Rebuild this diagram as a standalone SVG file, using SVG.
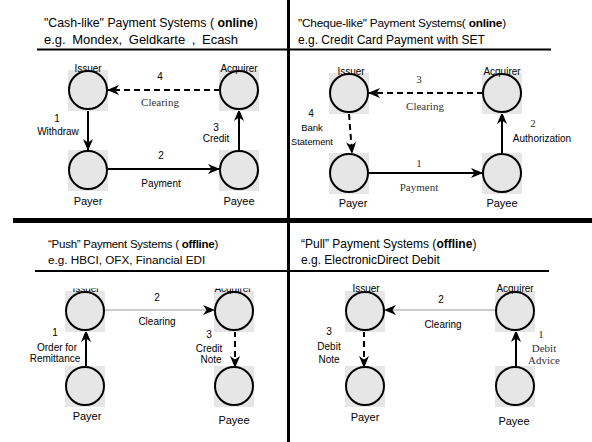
<svg xmlns="http://www.w3.org/2000/svg" width="592" height="442" viewBox="0 0 592 442">
<style>
.t{font-family:"Liberation Sans",Arial,sans-serif;font-size:12px;fill:#000}
.s{font-family:"Liberation Sans",Arial,sans-serif;font-size:10px;fill:#000;text-anchor:middle}
.n{font-family:"Liberation Sans",Arial,sans-serif;font-size:11px;fill:#000;text-anchor:middle}
.r{font-family:"Liberation Serif","Times New Roman",serif;font-size:11px;fill:#333;text-anchor:middle}
.bg{fill:#e6e6e6}
.c{fill:none;stroke:#000;stroke-width:2}
.sol{fill:none;stroke:#000;stroke-width:2}
.dsh{fill:none;stroke:#000;stroke-width:2;stroke-dasharray:6,4}
.thin{fill:none;stroke:#999;stroke-width:1}
.div{stroke:#000;fill:none}
</style>
<defs>
<marker id="ah" markerUnits="userSpaceOnUse" markerWidth="12" markerHeight="10" viewBox="0 0 12 10" refX="11" refY="5" orient="auto">
<path d="M0,0 L12,5 L0,10 L3.5,5 z" fill="#000"/>
</marker>
<clipPath id="blclip"><rect x="0" y="288.5" width="290" height="20"/></clipPath>
</defs>
<rect width="592" height="442" fill="#fff"/>

<g id="frame">
<line class="div" x1="288.5" y1="0" x2="288.5" y2="442" stroke-width="3"/>
<line class="div" x1="13" y1="220.5" x2="592" y2="220.5" stroke-width="5"/>
<line class="div" x1="37" y1="49.5" x2="287" y2="49.5" stroke-width="2"/>
<line class="div" x1="290" y1="49.5" x2="551" y2="49.5" stroke-width="2"/>
<line class="div" x1="35" y1="271" x2="287" y2="271" stroke-width="2"/>
<line class="div" x1="290" y1="271" x2="549" y2="271" stroke-width="2"/>
</g>

<g id="titles">
<text class="t" x="44" y="27" style="font-size:12.3px">"Cash-like" Payment Systems ( <tspan font-weight="bold">online</tspan>)</text>
<text class="t" x="44" y="44" style="font-size:13px;word-spacing:3px">e.g. Mondex, Geldkarte , Ecash</text>
<text class="t" x="298" y="27" style="font-size:11.8px;letter-spacing:-0.2px">"Cheque-like" Payment Systems( <tspan font-weight="bold">online</tspan>)</text>
<text class="t" x="298" y="44">e.g. Credit Card Payment  with SET</text>
<text class="t" x="48" y="248" style="font-size:11.5px;letter-spacing:-0.25px">“Push” Payment Systems ( <tspan font-weight="bold">offline</tspan>)</text>
<text class="t" x="48" y="264" style="font-size:11.7px">e.g. HBCI, OFX, Financial EDI</text>
<text class="t" x="301" y="248">“Pull” Payment Systems (<tspan font-weight="bold">offline</tspan>)</text>
<text class="t" x="301" y="264">e.g. ElectronicDirect Debit</text>
</g>

<g id="connectors">
<!-- top-left -->
<line class="dsh" x1="220" y1="90" x2="108" y2="90" marker-end="url(#ah)"/>
<line class="sol" x1="88" y1="110" x2="88" y2="150" marker-end="url(#ah)"/>
<line class="sol" x1="107" y1="169" x2="219" y2="169" marker-end="url(#ah)"/>
<line class="sol" x1="239" y1="150" x2="239" y2="110" marker-end="url(#ah)"/>
<!-- top-right -->
<line class="dsh" x1="483" y1="93" x2="369" y2="93" marker-end="url(#ah)"/>
<line class="dsh" x1="349" y1="114" x2="352" y2="153" marker-end="url(#ah)"/>
<line class="sol" x1="368" y1="173" x2="482" y2="173" marker-end="url(#ah)"/>
<line class="sol" x1="502" y1="153" x2="502" y2="113" marker-end="url(#ah)"/>
<!-- bottom-left -->
<line class="thin" x1="104" y1="310" x2="214" y2="310"/>
<path d="M203,305 L215,310 L203,315 L206.5,310 z" fill="#000"/>
<line class="sol" x1="86" y1="367" x2="86" y2="331" marker-end="url(#ah)"/>
<line class="dsh" x1="235" y1="331" x2="235" y2="367" marker-end="url(#ah)"/>
<!-- bottom-right -->
<line class="thin" x1="496" y1="310" x2="385" y2="310"/>
<path d="M396,305 L384,310 L396,315 L392.5,310 z" fill="#000"/>
<line class="dsh" x1="364" y1="331" x2="364" y2="367" marker-end="url(#ah)"/>
<line class="sol" x1="516" y1="367" x2="516" y2="331" marker-end="url(#ah)"/>
</g>

<g id="connector-labels">
<text class="s" x="160" y="80">4</text>
<text class="r" x="160" y="106">Clearing</text>
<text class="s" x="57" y="122">1</text>
<text class="s" x="58" y="135">Withdraw</text>
<text class="s" x="161" y="159">2</text>
<text class="s" x="161" y="187">Payment</text>
<text class="s" x="216" y="131">3</text>
<text class="s" x="216" y="142">Credit</text>

<text class="r" x="419" y="83">3</text>
<text class="r" x="425" y="110">Clearing</text>
<text class="s" x="311" y="117">4</text>
<text class="s" x="312" y="131" style="font-size:9.5px">Bank</text>
<text class="s" x="312" y="145" style="font-size:9.2px">Statement</text>
<text class="r" x="419" y="167">1</text>
<text class="r" x="419" y="191">Payment</text>
<text class="r" x="533" y="127">2</text>
<text class="s" x="542" y="142">Authorization</text>

<text class="s" x="157" y="301">2</text>
<text class="s" x="157" y="325">Clearing</text>
<text class="s" x="55" y="336">1</text>
<text class="s" x="57" y="351">Order for</text>
<text class="s" x="55" y="362">Remittance</text>
<text class="s" x="209" y="338">3</text>
<text class="s" x="209" y="352">Credit</text>
<text class="s" x="211" y="363">Note</text>

<text class="s" x="441" y="303">2</text>
<text class="s" x="443" y="328">Clearing</text>
<text class="s" x="329" y="335">3</text>
<text class="s" x="329" y="350">Debit</text>
<text class="s" x="329" y="363">Note</text>
<text class="r" x="541" y="338">1</text>
<text class="r" x="544" y="352">Debit</text>
<text class="r" x="544" y="364">Advice</text>
</g>

<g id="tl-issuer"><rect class="bg" x="68" y="70" width="40" height="41"/><circle class="c" cx="88" cy="90" r="19"/><text class="s" x="88" y="72">Issuer</text></g>
<g id="tl-acquirer"><rect class="bg" x="219" y="70" width="40" height="41"/><circle class="c" cx="239" cy="90" r="19"/><text class="s" x="239" y="72">Acquirer</text></g>
<g id="tl-payer"><rect class="bg" x="68" y="150" width="40" height="41"/><circle class="c" cx="88" cy="170" r="19"/><text class="n" x="88" y="205">Payer</text></g>
<g id="tl-payee"><rect class="bg" x="219" y="150" width="40" height="41"/><circle class="c" cx="239" cy="170" r="19"/><text class="n" x="239" y="205">Payee</text></g>

<g id="tr-issuer"><rect class="bg" x="329" y="73" width="40" height="41"/><circle class="c" cx="349" cy="93" r="19"/><text class="s" x="351" y="75">Issuer</text></g>
<g id="tr-acquirer"><rect class="bg" x="482" y="73" width="40" height="41"/><circle class="c" cx="502" cy="93" r="19"/><text class="s" x="502" y="75">Acquirer</text></g>
<g id="tr-payer"><rect class="bg" x="329" y="153" width="40" height="41"/><circle class="c" cx="349" cy="173" r="19"/><text class="n" x="353" y="207">Payer</text></g>
<g id="tr-payee"><rect class="bg" x="482" y="153" width="40" height="41"/><circle class="c" cx="502" cy="173" r="19"/><text class="n" x="502" y="207">Payee</text></g>

<g id="bl-issuer"><rect class="bg" x="65" y="291" width="40" height="41"/><circle class="c" cx="85" cy="311" r="19"/><text class="s" x="86" y="292" clip-path="url(#blclip)">Issuer</text></g>
<g id="bl-acquirer"><rect class="bg" x="214" y="291" width="40" height="41"/><circle class="c" cx="234" cy="311" r="19"/><text class="s" x="233" y="292" clip-path="url(#blclip)">Acquirer</text></g>
<g id="bl-payer"><rect class="bg" x="65" y="366" width="40" height="41"/><circle class="c" cx="85" cy="386" r="19"/><text class="n" x="87" y="420">Payer</text></g>
<g id="bl-payee"><rect class="bg" x="214" y="366" width="40" height="41"/><circle class="c" cx="234" cy="386" r="19"/><text class="n" x="234" y="424">Payee</text></g>

<g id="br-issuer"><rect class="bg" x="345" y="291" width="40" height="41"/><circle class="c" cx="365" cy="311" r="19"/><text class="s" x="366" y="292">Issuer</text></g>
<g id="br-acquirer"><rect class="bg" x="495" y="291" width="40" height="41"/><circle class="c" cx="515" cy="311" r="19"/><text class="s" x="515" y="292">Acquirer</text></g>
<g id="br-payer"><rect class="bg" x="345" y="366" width="40" height="41"/><circle class="c" cx="365" cy="386" r="19"/><text class="n" x="365" y="421">Payer</text></g>
<g id="br-payee"><rect class="bg" x="495" y="366" width="40" height="41"/><circle class="c" cx="515" cy="386" r="19"/><text class="n" x="514" y="425">Payee</text></g>
</svg>
